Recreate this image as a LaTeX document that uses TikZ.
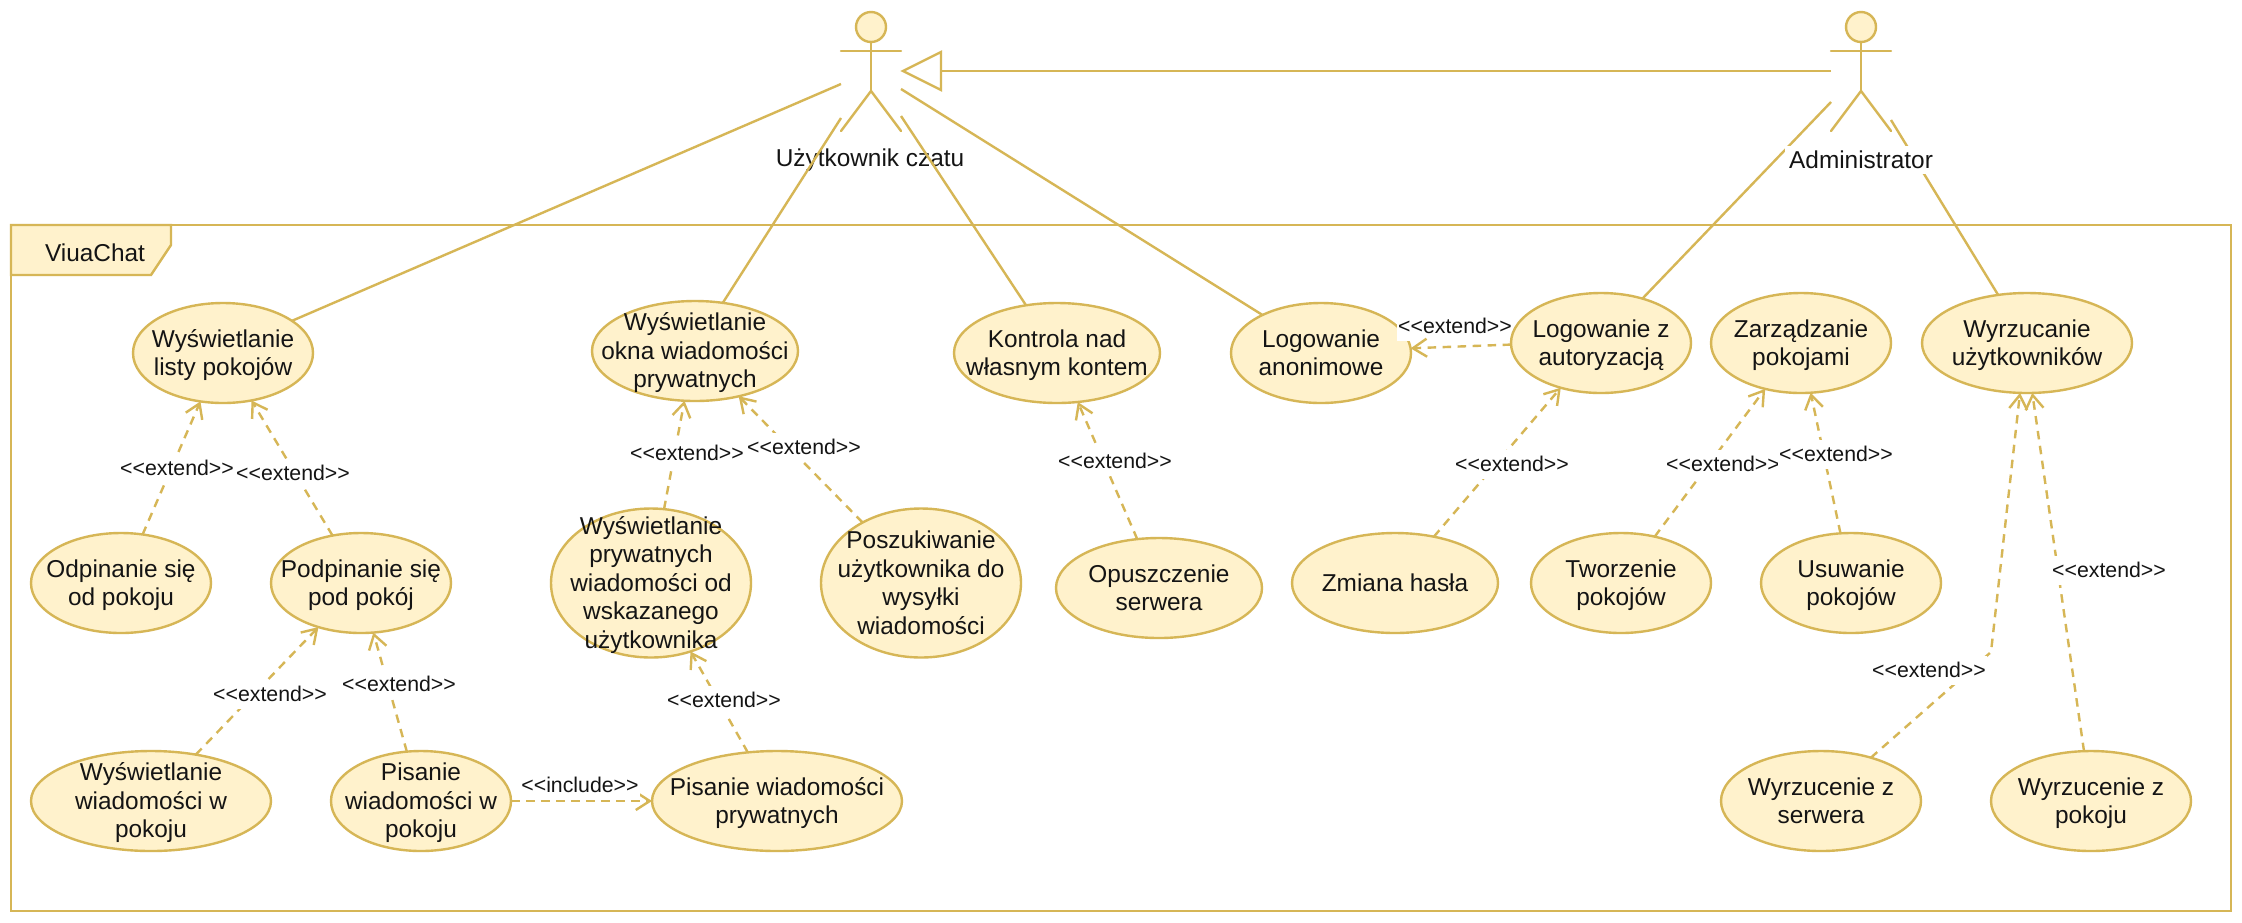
\documentclass[tikz,border=0pt]{standalone}
\usepackage{fontspec}
\setmainfont[Ligatures=NoCommon]{Liberation Sans}
\usetikzlibrary{shapes.geometric,arrows.meta}
\definecolor{uline}{HTML}{D6B656}
\definecolor{ufill}{HTML}{FFF2CC}
\definecolor{utext}{HTML}{141414}
\newcommand{\ut}[1]{\smash{\raisebox{-8.9pt}{\makebox[0pt]{\begin{tabular}{@{}c@{}}#1\end{tabular}}}}}
\newcommand{\ext}{<{}<extend>{}>}
\newcommand{\inc}{<{}<include>{}>}
\tikzset{
  uc/.style={ellipse,draw=uline,fill=ufill,line width=2.4pt,inner sep=0pt,outer sep=0pt,
    text=utext,font=\fontsize{24.4}{28.5}\selectfont},
  assoc/.style={draw=uline,line width=2.4pt},
  dep/.style={draw=uline,line width=2.4pt,dash pattern=on 8.5pt off 6.5pt,
    -{Straight Barb[length=14pt,width=18pt,line width=2.4pt]}},
  elabel/.style={fill=white,inner xsep=1.5pt,inner ysep=0pt,minimum height=29pt,text=utext,font=\fontsize{21.3}{25}\selectfont},
  alabel/.style={text=utext,font=\fontsize{24.4}{28.5}\selectfont,inner sep=0pt},
  part/.style={draw=uline,line width=2.4pt,line cap=round},
}
\begin{document}
\begin{tikzpicture}[x=1pt,y=-1pt]
\useasboundingbox (0,0) rectangle (2242,922);
\fill[white] (0,0) rectangle (2242,922);
% frame
\draw[assoc] (11,225) rectangle (2231,911);
\draw[assoc,fill=ufill] (11,225) -- (171,225) -- (171,245) -- (151,275) -- (11,275) -- cycle;
\node[alabel] (frametitle) at (95,253) {ViuaChat};
% actors
\foreach \x in {871,1861}{
  \draw[part,fill=ufill] (\x,27) circle (15);
  \draw[part] (\x,42) -- (\x,91);
  \draw[part] (\x-30,51) -- (\x+30,51);
  \draw[part] (\x-30,131) -- (\x,91) -- (\x+30,131);
}
\coordinate (a1L) at (841,84);
\coordinate (a1B) at (841,118);
\coordinate (a1C) at (901,116);
\coordinate (a1D) at (901,89);
\coordinate (a1G) at (903,71);
\coordinate (a2G) at (1831,71);
\coordinate (a2F) at (1831,102);
\coordinate (a2W) at (1891,120);
\node[alabel] (user) at (870,160) {Użytkownik czatu};
% use cases
\node[uc,minimum width=180pt,minimum height=100pt] (lista) at (223,353) {\ut{Wyświetlanie\\listy pokojów}};
\node[uc,minimum width=180pt,minimum height=100pt] (odp) at (121,583) {\ut{Odpinanie się\\od pokoju}};
\node[uc,minimum width=180pt,minimum height=100pt] (podp) at (361,583) {\ut{Podpinanie się\\pod pokój}};
\node[uc,minimum width=240pt,minimum height=100pt] (wwp) at (151,801) {\ut{Wyświetlanie\\wiadomości w\\pokoju}};
\node[uc,minimum width=180pt,minimum height=100pt] (pwp) at (421,801) {\ut{Pisanie\\wiadomości w\\pokoju}};
\node[uc,minimum width=250pt,minimum height=100pt] (ppr) at (777,801) {\ut{Pisanie wiadomości\\prywatnych}};
\node[uc,minimum width=206pt,minimum height=100pt] (okna) at (695,351) {\ut{Wyświetlanie\\okna wiadomości\\prywatnych}};
\node[uc,minimum width=200pt,minimum height=149pt] (wpr) at (651,583) {\ut{Wyświetlanie\\prywatnych\\wiadomości od\\wskazanego\\użytkownika}};
\node[uc,minimum width=200pt,minimum height=149pt] (posz) at (921,583) {\ut{Poszukiwanie\\użytkownika do\\wysyłki\\wiadomości}};
\node[uc,minimum width=206pt,minimum height=100pt] (kontr) at (1057,353) {\ut{Kontrola nad\\własnym kontem}};
\node[uc,minimum width=206pt,minimum height=100pt] (opu) at (1159,588) {\ut{Opuszczenie\\serwera}};
\node[uc,minimum width=180pt,minimum height=100pt] (anon) at (1321,353) {\ut{Logowanie\\anonimowe}};
\node[elabel] (l10) at (1455,326) {\ext};
\node[uc,minimum width=180pt,minimum height=100pt] (aut) at (1601,343) {\ut{Logowanie z\\autoryzacją}};
\node[uc,minimum width=180pt,minimum height=100pt] (zarz) at (1801,343) {\ut{Zarządzanie\\pokojami}};
\node[uc,minimum width=210pt,minimum height=100pt] (wyrz) at (2027,343) {\ut{Wyrzucanie\\użytkowników}};
\node[uc,minimum width=206pt,minimum height=100pt] (haslo) at (1395,583) {\ut{Zmiana hasła}};
\node[uc,minimum width=180pt,minimum height=100pt] (tw) at (1621,583) {\ut{Tworzenie\\pokojów}};
\node[uc,minimum width=180pt,minimum height=100pt] (usu) at (1851,583) {\ut{Usuwanie\\pokojów}};
\node[uc,minimum width=200pt,minimum height=100pt] (wsrv) at (1821,801) {\ut{Wyrzucenie z\\serwera}};
\node[uc,minimum width=200pt,minimum height=100pt] (wpok) at (2091,801) {\ut{Wyrzucenie z\\pokoju}};
% associations
\draw[assoc] (a1L) -- (lista.25);
\draw[assoc] (a1B) -- (okna.60);
\draw[assoc] (a1C) -- (kontr.123);
\draw[assoc] (a1D) -- (anon.147);
\draw[assoc] (a2F) -- (aut.47);
\draw[assoc] (a2W) -- (wyrz.121);
\coordinate (genbase) at (941,71);
\draw[assoc] (a2G) -- (genbase);
\draw[assoc,line join=miter] (941,52) -- (a1G) -- (941,90) -- cycle;
\node[alabel,fill=white,inner xsep=4pt,inner ysep=0pt,minimum height=28pt] (admin) at (1861,160) {Administrator};
% dependencies
\draw[dep] (odp.66) -- (lista.245);
\node[elabel] (l1) at (177,468) {\ext};
\draw[dep] (podp.121) -- (lista.301);
\node[elabel] (l2) at (293,473) {\ext};
\draw[dep] (wwp.46) -- (podp.226);
\node[elabel] (l3) at (270,694) {\ext};
\draw[dep] (pwp.106) -- (podp.284);
\node[elabel] (l4) at (399,684) {\ext};
\draw[dep] (pwp.0) -- (ppr.180);
\node[elabel] (l5) at (580,785) {\inc};
\draw[dep] (ppr.121) -- (wpr.300);
\node[elabel] (l6) at (724,700) {\ext};
\draw[dep] (wpr.80) -- (okna.258);
\node[elabel] (l7) at (687,453) {\ext};
\draw[dep] (posz.134) -- (okna.314);
\node[elabel] (l8) at (804,447) {\ext};
\draw[dep] (opu.114) -- (kontr.293);
\node[elabel] (l9) at (1115,461) {\ext};
\draw[dep] (aut.181) -- (anon.3);
\draw[dep] (haslo.50) -- (aut.228);
\node[elabel] (l11) at (1512,464) {\ext};
\draw[dep] (tw.54) -- (zarz.232);
\node[elabel] (l12) at (1723,464) {\ext};
\draw[dep] (usu.102) -- (zarz.281);
\node[elabel] (l13) at (1836,454) {\ext};
\coordinate (bend) at (1991,652);
\draw[dep] (wsrv.41.5) -- (bend) -- (wyrz.262);
\node[elabel] (l14) at (1929,670) {\ext};
\draw[dep] (wpok.98.4) -- (wyrz.276);
\node[elabel] (l15) at (2109,570) {\ext};
\end{tikzpicture}
\end{document}
